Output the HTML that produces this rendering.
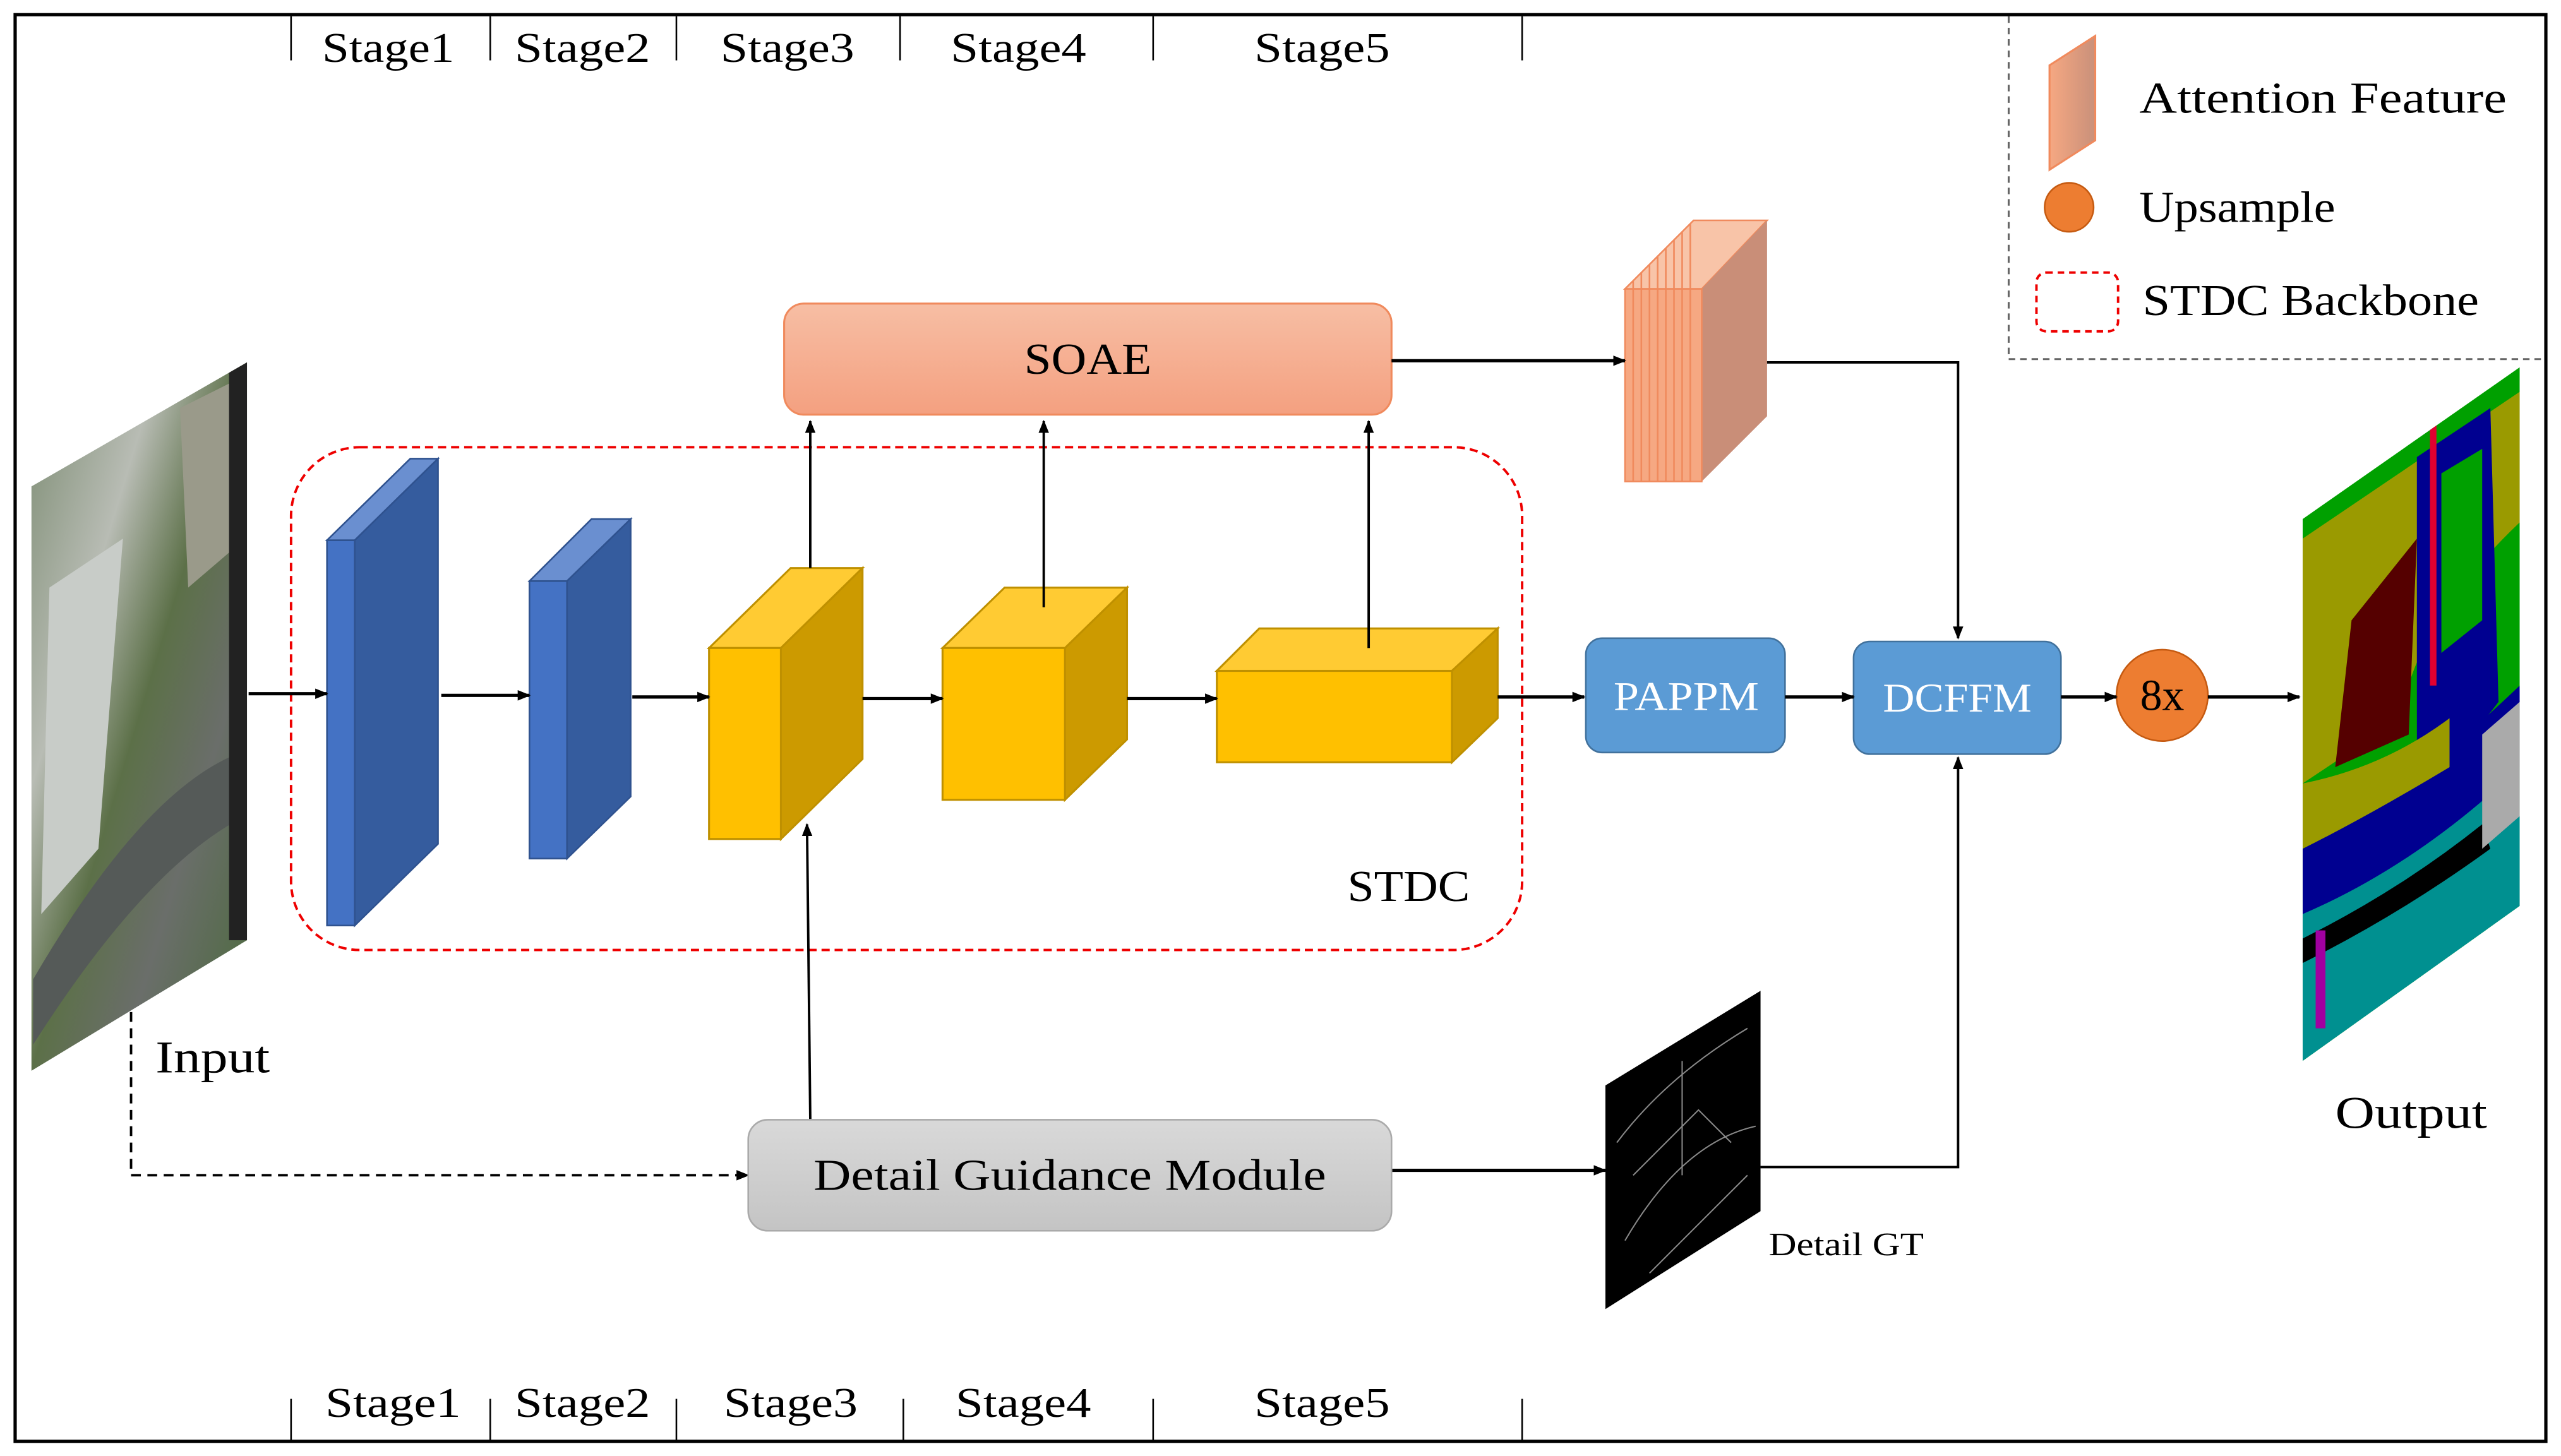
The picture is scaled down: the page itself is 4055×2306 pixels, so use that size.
<!DOCTYPE html>
<html><head><meta charset="utf-8"><style>
html,body{margin:0;padding:0;background:#fff;}
svg{display:block;}
</style></head><body>
<svg width="4055" height="2306" viewBox="0 0 1568 892" xmlns="http://www.w3.org/2000/svg" font-family="'Liberation Serif', 'DejaVu Serif', serif">
<defs>
<marker id="ar" viewBox="0 0 10 10" refX="9" refY="5" markerWidth="8" markerHeight="8" orient="auto" markerUnits="userSpaceOnUse"><path d="M0,1 L10,5 L0,9 z" fill="#000"/></marker>
<linearGradient id="soae" x1="0" y1="0" x2="0" y2="1"><stop offset="0" stop-color="#f7bea4"/><stop offset="1" stop-color="#f4a080"/></linearGradient>
<linearGradient id="dgm" x1="0" y1="0" x2="0" y2="1"><stop offset="0" stop-color="#d9d9d9"/><stop offset="1" stop-color="#c4c4c4"/></linearGradient>
<linearGradient id="inp" x1="0" y1="0" x2="1" y2="1"><stop offset="0" stop-color="#7a8a70"/><stop offset="0.3" stop-color="#b8bcb4"/><stop offset="0.5" stop-color="#5c7048"/><stop offset="0.7" stop-color="#6a6e6a"/><stop offset="1" stop-color="#4a6a3a"/></linearGradient>
<linearGradient id="att" x1="0" y1="0" x2="1" y2="0"><stop offset="0" stop-color="#f6a882"/><stop offset="1" stop-color="#c9907a"/></linearGradient>
<clipPath id="outc"><polygon points="1410,318 1543,225 1543,555 1410,650"/></clipPath>
<clipPath id="inc"><polygon points="19,298 151,222 151,576 19,656"/></clipPath>
</defs>
<rect x="9" y="9" width="1550" height="874" fill="none" stroke="#000" stroke-width="2"/>
<g stroke="#000" stroke-width="1">
<line x1="178" y1="10" x2="178" y2="37"/><line x1="300" y1="10" x2="300" y2="37"/><line x1="414" y1="10" x2="414" y2="37"/><line x1="551" y1="10" x2="551" y2="37"/><line x1="706" y1="10" x2="706" y2="37"/><line x1="932" y1="10" x2="932" y2="37"/>
<line x1="178" y1="857" x2="178" y2="883"/><line x1="300" y1="857" x2="300" y2="883"/><line x1="414" y1="857" x2="414" y2="883"/><line x1="553" y1="857" x2="553" y2="883"/><line x1="706" y1="857" x2="706" y2="883"/><line x1="932" y1="857" x2="932" y2="883"/>
</g>
<g font-size="26">
<text x="197" y="38" textLength="81" lengthAdjust="spacingAndGlyphs">Stage1</text><text x="315" y="38" textLength="83" lengthAdjust="spacingAndGlyphs">Stage2</text><text x="441" y="38" textLength="82" lengthAdjust="spacingAndGlyphs">Stage3</text><text x="582" y="38" textLength="83" lengthAdjust="spacingAndGlyphs">Stage4</text><text x="768" y="38" textLength="83" lengthAdjust="spacingAndGlyphs">Stage5</text>
<text x="199" y="868" textLength="83" lengthAdjust="spacingAndGlyphs">Stage1</text><text x="315" y="868" textLength="83" lengthAdjust="spacingAndGlyphs">Stage2</text><text x="443" y="868" textLength="82" lengthAdjust="spacingAndGlyphs">Stage3</text><text x="585" y="868" textLength="83" lengthAdjust="spacingAndGlyphs">Stage4</text><text x="768" y="868" textLength="83" lengthAdjust="spacingAndGlyphs">Stage5</text>
</g>
<path d="M1230,10 V220 H1557" fill="none" stroke="#666" stroke-width="1.2" stroke-dasharray="4,3"/>
<polygon points="1255,40 1283,22 1283,86 1255,104" fill="url(#att)" stroke="#f08a5d" stroke-width="1.2"/>
<text x="1310" y="69" font-size="27" textLength="225" lengthAdjust="spacingAndGlyphs">Attention Feature</text>
<circle cx="1267" cy="127" r="15" fill="#ed7d31" stroke="#c55a11"/>
<text x="1310" y="136" font-size="27" textLength="120" lengthAdjust="spacingAndGlyphs">Upsample</text>
<rect x="1247" y="167" width="50" height="36" rx="6" fill="none" stroke="#e00" stroke-width="1.5" stroke-dasharray="4,3"/>
<text x="1312" y="193" font-size="27" textLength="206" lengthAdjust="spacingAndGlyphs">STDC Backbone</text>
<rect x="480" y="186" width="372" height="68" rx="12" fill="url(#soae)" stroke="#f08a5d" stroke-width="1.2"/>
<text x="627" y="229" font-size="27" textLength="78" lengthAdjust="spacingAndGlyphs">SOAE</text>
<polygon points="995,177 1037,135 1082,135 1042,177" fill="#f8c4a8" stroke="#f08a5d"/>
<polygon points="1042,177 1082,135 1082,255 1042,295" fill="#c98e78"/>
<rect x="995" y="177" width="47" height="118" fill="#f6a882" stroke="#f08a5d"/>
<g stroke="#f08a5d" stroke-width="1">
<line x1="1000" y1="172" x2="1000" y2="295"/><line x1="1005" y1="167" x2="1005" y2="295"/><line x1="1010" y1="162" x2="1010" y2="295"/><line x1="1015" y1="157" x2="1015" y2="295"/><line x1="1020" y1="152" x2="1020" y2="295"/><line x1="1025" y1="147" x2="1025" y2="295"/><line x1="1030" y1="142" x2="1030" y2="295"/><line x1="1035" y1="137" x2="1035" y2="295"/>
</g>
<rect x="178" y="274" width="754" height="308" rx="42" fill="none" stroke="#e00" stroke-width="1.5" stroke-dasharray="5,3"/>
<text x="825" y="552" font-size="27" textLength="75" lengthAdjust="spacingAndGlyphs">STDC</text>
<g stroke="#2f528f" stroke-width="1">
<polygon points="200,331 251,281 268,281 217,331" fill="#6a8fd0"/>
<polygon points="217,331 268,281 268,517 217,567" fill="#355c9e"/>
<rect x="200" y="331" width="17" height="236" fill="#4472c4"/>
<polygon points="324,356 362,318 386,318 347,356" fill="#6a8fd0"/>
<polygon points="347,356 386,318 386,488 347,526" fill="#355c9e"/>
<rect x="324" y="356" width="23" height="170" fill="#4472c4"/>
</g>
<g stroke="#bf9000" stroke-width="1.2">
<polygon points="434,397 484,348 528,348 478,397" fill="#ffcb33"/>
<polygon points="478,397 528,348 528,465 478,514" fill="#cc9a00"/>
<rect x="434" y="397" width="44" height="117" fill="#ffc000"/>
<polygon points="577,397 615,360 690,360 652,397" fill="#ffcb33"/>
<polygon points="652,397 690,360 690,453 652,490" fill="#cc9a00"/>
<rect x="577" y="397" width="75" height="93" fill="#ffc000"/>
<polygon points="745,411 771,385 917,385 889,411" fill="#ffcb33"/>
<polygon points="889,411 917,385 917,440 889,467" fill="#cc9a00"/>
<rect x="745" y="411" width="144" height="56" fill="#ffc000"/>
</g>
<rect x="971" y="391" width="122" height="70" rx="10" fill="#5b9bd5" stroke="#41719c"/>
<text x="988" y="435" font-size="25" fill="#fff" textLength="89" lengthAdjust="spacingAndGlyphs">PAPPM</text>
<rect x="1135" y="393" width="127" height="69" rx="10" fill="#5b9bd5" stroke="#41719c"/>
<text x="1153" y="436" font-size="25" fill="#fff" textLength="91" lengthAdjust="spacingAndGlyphs">DCFFM</text>
<circle cx="1324" cy="426" r="28" fill="#ed7d31" stroke="#c55a11"/>
<text x="1324" y="435" font-size="27" text-anchor="middle">8x</text>
<g stroke="#000" stroke-width="2" marker-end="url(#ar)">
<line x1="152" y1="425" x2="200" y2="425"/><line x1="270" y1="426" x2="324" y2="426"/><line x1="387" y1="427" x2="434" y2="427"/><line x1="528" y1="428" x2="577" y2="428"/><line x1="690" y1="428" x2="745" y2="428"/><line x1="917" y1="427" x2="970" y2="427"/><line x1="1093" y1="427" x2="1135" y2="427"/><line x1="1262" y1="427" x2="1296" y2="427"/><line x1="1352" y1="427" x2="1408" y2="427"/>
<line x1="852" y1="221" x2="995" y2="221"/><line x1="852" y1="717" x2="983" y2="717"/>
</g>
<g stroke="#000" stroke-width="1.5" fill="none" marker-end="url(#ar)">
<line x1="496" y1="348" x2="496" y2="258"/><line x1="639" y1="372" x2="639" y2="258"/><line x1="838" y1="397" x2="838" y2="258"/>
<line x1="496" y1="686" x2="494" y2="505"/>
<path d="M1082,222 H1199 V391"/><path d="M1078,715 H1199 V464"/>
<path d="M80,620 V720 H458" stroke-dasharray="6,4"/>
</g>
<rect x="458" y="686" width="394" height="68" rx="12" fill="url(#dgm)" stroke="#aaa"/>
<text x="498" y="729" font-size="27" textLength="314" lengthAdjust="spacingAndGlyphs">Detail Guidance Module</text>
<polygon points="983,665 1078,607 1078,742 983,802" fill="#000"/>
<g stroke="#888" stroke-width="0.8" fill="none">
<path d="M990,700 Q1020,660 1070,630"/><path d="M995,760 Q1030,700 1075,690"/><path d="M1000,720 L1040,680 L1060,700"/><path d="M1010,780 Q1050,740 1070,720"/><path d="M1030,650 L1030,720"/>
</g>
<text x="1083" y="769" font-size="20" textLength="95" lengthAdjust="spacingAndGlyphs">Detail GT</text>
<polygon points="19,298 151,222 151,576 19,656" fill="url(#inp)"/>
<g clip-path="url(#inc)">
<polygon points="30,360 75,330 60,520 25,560" fill="#c8ccc8"/>
<polygon points="110,250 150,230 150,330 115,360" fill="#9a9a8a"/>
<path d="M20,600 Q90,480 150,460 L150,500 Q90,530 20,640z" fill="#555a58"/>
<rect x="140" y="222" width="11" height="354" fill="#222"/>
</g>
<text x="95" y="657" font-size="28" textLength="70" lengthAdjust="spacingAndGlyphs">Input</text>
<g clip-path="url(#outc)">
<rect x="1410" y="225" width="133" height="425" fill="#00a000"/>
<path d="M1410,330 L1543,240 L1543,320 Q1480,380 1470,440 L1410,480z" fill="#9a9a00"/>
<path d="M1440,380 L1480,330 L1475,450 L1430,470z" fill="#550000"/>
<path d="M1480,280 L1525,250 L1530,430 Q1500,470 1480,470z" fill="#000090"/>
<path d="M1495,290 L1520,275 L1520,380 L1495,400z" fill="#00a000"/>
<path d="M1410,520 Q1470,490 1543,420 L1543,470 Q1480,540 1410,570z" fill="#000090"/>
<path d="M1410,560 Q1480,530 1543,470 L1543,555 L1410,650z" fill="#009090"/>
<path d="M1410,480 Q1460,470 1500,440 L1500,470 Q1450,500 1410,520z" fill="#9a9a00"/>
<path d="M1410,575 Q1470,545 1520,505 L1525,520 Q1470,560 1410,590z" fill="#000"/>
<rect x="1418" y="570" width="6" height="60" fill="#a000a0"/>
<rect x="1488" y="250" width="4" height="170" fill="#e00030"/>
<path d="M1520,450 L1543,430 L1543,500 L1520,520z" fill="#aaa"/>
</g>
<text x="1430" y="691" font-size="28" textLength="93" lengthAdjust="spacingAndGlyphs">Output</text>
</svg>
</body></html>
